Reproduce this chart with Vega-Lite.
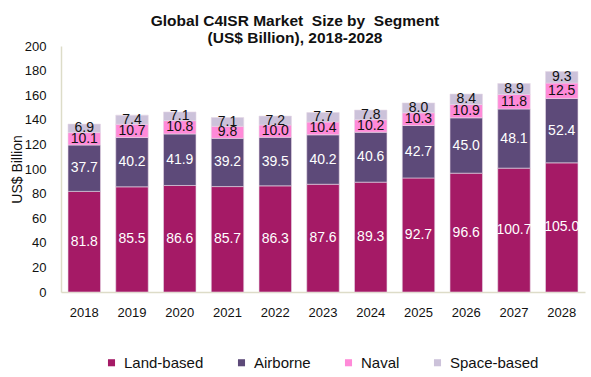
{
  "$schema": "https://vega.github.io/schema/vega-lite/v6.json",
  "width": 524,
  "height": 246,
  "autosize": "none",
  "padding": {"left": 61, "top": 46, "right": 6, "bottom": 85},
  "background": "white",
  "config": {"font": "Liberation Sans", "view": {"stroke": null}, "axisY": {"labelOverlap": false}},
  "title": {
    "text": ["Global C4ISR Market \u00a0Size by \u00a0Segment", "(US$ Billion), 2018-2028"],
    "fontSize": 15.5,
    "fontWeight": "bold",
    "lineHeight": 17,
    "color": "#111111",
    "anchor": "middle",
    "dx": -28,
    "dy": 6,
    "offset": 0
  },
  "data": {
    "values": [
      {"year": "2018", "segment": "Land-based", "order": 1, "value": 81.8},
      {"year": "2018", "segment": "Airborne", "order": 2, "value": 37.7},
      {"year": "2018", "segment": "Naval", "order": 3, "value": 10.1},
      {"year": "2018", "segment": "Space-based", "order": 4, "value": 6.9},
      {"year": "2019", "segment": "Land-based", "order": 1, "value": 85.5},
      {"year": "2019", "segment": "Airborne", "order": 2, "value": 40.2},
      {"year": "2019", "segment": "Naval", "order": 3, "value": 10.7},
      {"year": "2019", "segment": "Space-based", "order": 4, "value": 7.4},
      {"year": "2020", "segment": "Land-based", "order": 1, "value": 86.6},
      {"year": "2020", "segment": "Airborne", "order": 2, "value": 41.9},
      {"year": "2020", "segment": "Naval", "order": 3, "value": 10.8},
      {"year": "2020", "segment": "Space-based", "order": 4, "value": 7.1},
      {"year": "2021", "segment": "Land-based", "order": 1, "value": 85.7},
      {"year": "2021", "segment": "Airborne", "order": 2, "value": 39.2},
      {"year": "2021", "segment": "Naval", "order": 3, "value": 9.8},
      {"year": "2021", "segment": "Space-based", "order": 4, "value": 7.1},
      {"year": "2022", "segment": "Land-based", "order": 1, "value": 86.3},
      {"year": "2022", "segment": "Airborne", "order": 2, "value": 39.5},
      {"year": "2022", "segment": "Naval", "order": 3, "value": 10.0},
      {"year": "2022", "segment": "Space-based", "order": 4, "value": 7.2},
      {"year": "2023", "segment": "Land-based", "order": 1, "value": 87.6},
      {"year": "2023", "segment": "Airborne", "order": 2, "value": 40.2},
      {"year": "2023", "segment": "Naval", "order": 3, "value": 10.4},
      {"year": "2023", "segment": "Space-based", "order": 4, "value": 7.7},
      {"year": "2024", "segment": "Land-based", "order": 1, "value": 89.3},
      {"year": "2024", "segment": "Airborne", "order": 2, "value": 40.6},
      {"year": "2024", "segment": "Naval", "order": 3, "value": 10.2},
      {"year": "2024", "segment": "Space-based", "order": 4, "value": 7.8},
      {"year": "2025", "segment": "Land-based", "order": 1, "value": 92.7},
      {"year": "2025", "segment": "Airborne", "order": 2, "value": 42.7},
      {"year": "2025", "segment": "Naval", "order": 3, "value": 10.3},
      {"year": "2025", "segment": "Space-based", "order": 4, "value": 8.0},
      {"year": "2026", "segment": "Land-based", "order": 1, "value": 96.6},
      {"year": "2026", "segment": "Airborne", "order": 2, "value": 45.0},
      {"year": "2026", "segment": "Naval", "order": 3, "value": 10.9},
      {"year": "2026", "segment": "Space-based", "order": 4, "value": 8.4},
      {"year": "2027", "segment": "Land-based", "order": 1, "value": 100.7},
      {"year": "2027", "segment": "Airborne", "order": 2, "value": 48.1},
      {"year": "2027", "segment": "Naval", "order": 3, "value": 11.8},
      {"year": "2027", "segment": "Space-based", "order": 4, "value": 8.9},
      {"year": "2028", "segment": "Land-based", "order": 1, "value": 105.0},
      {"year": "2028", "segment": "Airborne", "order": 2, "value": 52.4},
      {"year": "2028", "segment": "Naval", "order": 3, "value": 12.5},
      {"year": "2028", "segment": "Space-based", "order": 4, "value": 9.3}
    ]
  },
  "transform": [
    {"stack": "value", "groupby": ["year"], "sort": [{"field": "order", "order": "ascending"}], "as": ["v0", "v1"]},
    {"calculate": "(datum.v0 + datum.v1) / 2", "as": "mid"}
  ],
  "encoding": {
    "x": {
      "field": "year",
      "type": "ordinal",
      "scale": {"paddingInner": 0.32, "paddingOuter": 0.147},
      "axis": {
        "title": null,
        "labelAngle": 0,
        "labelFontSize": 13,
        "labelColor": "#111111",
        "labelPadding": 14,
        "ticks": false,
        "domainColor": "#DDDCC8",
        "domainWidth": 1.5
      }
    }
  },
  "layer": [
    {
      "mark": {"type": "bar", "stroke": "#E6D6E6", "strokeWidth": 0.6},
      "encoding": {
        "y": {
          "field": "v0",
          "type": "quantitative",
          "scale": {"domain": [0, 200]},
          "axis": {
            "title": "US$ Billion",
            "titleFontSize": 14,
            "titleFontWeight": "normal",
            "titleColor": "#111111",
            "titlePadding": 0,
            "values": [0, 20, 40, 60, 80, 100, 120, 140, 160, 180, 200],
            "labelOverlap": false,
            "labelFontSize": 13,
            "labelColor": "#111111",
            "labelPadding": 15,
            "ticks": false,
            "grid": false,
            "domainColor": "#DDDCC8",
            "domainWidth": 1.5
          }
        },
        "y2": {"field": "v1"},
        "color": {
          "field": "segment",
          "type": "nominal",
          "sort": ["Land-based", "Airborne", "Naval", "Space-based"],
          "scale": {
            "domain": ["Land-based", "Airborne", "Naval", "Space-based"],
            "range": ["#A51A66", "#5D4A79", "#FF8AD8", "#CCC2DA"]
          },
          "legend": {
            "title": null,
            "orient": "none",
            "direction": "horizontal",
            "legendX": 43,
            "legendY": 309,
            "symbolType": "square",
            "symbolSize": 50,
            "symbolStrokeWidth": 0,
            "labelFontSize": 15,
            "labelColor": "#111111",
            "labelOffset": 5,
            "columnPadding": 30,
            "padding": 0
          }
        },
        "order": {"field": "order", "type": "quantitative"}
      }
    },
    {
      "mark": {"type": "text", "fontSize": 14, "baseline": "middle", "align": "center"},
      "encoding": {
        "y": {
          "field": "mid",
          "type": "quantitative",
          "scale": {"domain": [0, 200]},
          "axis": {
            "title": "US$ Billion",
            "titleFontSize": 14,
            "titleFontWeight": "normal",
            "titleColor": "#111111",
            "titlePadding": 0,
            "values": [0, 20, 40, 60, 80, 100, 120, 140, 160, 180, 200],
            "labelOverlap": false,
            "labelFontSize": 13,
            "labelColor": "#111111",
            "labelPadding": 15,
            "ticks": false,
            "grid": false,
            "domainColor": "#DDDCC8",
            "domainWidth": 1.5
          }
        },
        "text": {"field": "value", "type": "quantitative", "format": ".1f"},
        "color": {
          "condition": {"test": "datum.segment === 'Land-based' || datum.segment === 'Airborne'", "value": "#FFFFFF"},
          "value": "#111111"
        }
      }
    }
  ]
}
